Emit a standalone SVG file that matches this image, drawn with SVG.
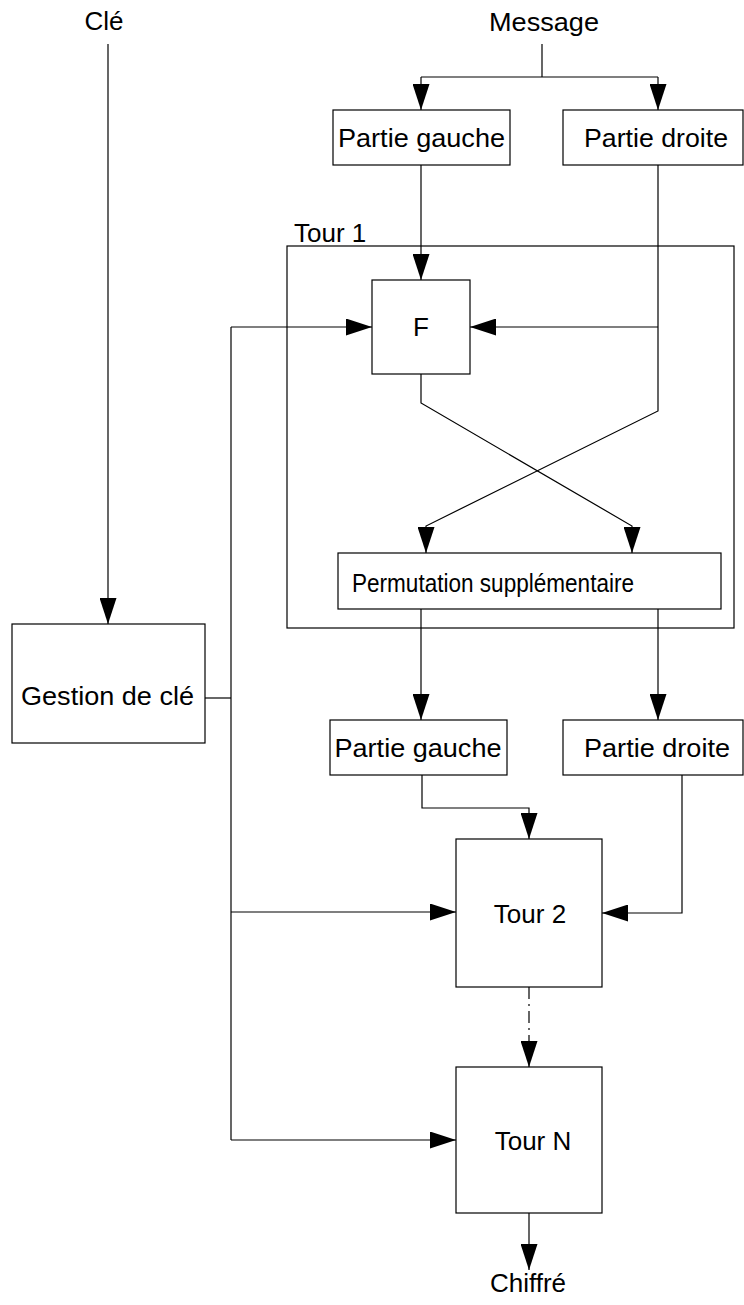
<svg xmlns="http://www.w3.org/2000/svg" width="744" height="1305" viewBox="0 0 744 1305">
  <style>
    .box { fill: #fff; stroke: #000; stroke-width: 1.2; }
    .frame { fill: none; stroke: #000; stroke-width: 1.2; }
    .wire { fill: none; stroke: #000; stroke-width: 1.2; }
    .arrow { marker-end: url(#head); }
    .dashdot { stroke-dasharray: 12 5 2 5; }
    text { font-family: "Liberation Sans", Arial, sans-serif; font-size: 26px; fill: #000; text-anchor: middle; }
    .left { text-anchor: start; }
  </style>
  <defs>
    <marker id="head" markerUnits="userSpaceOnUse" markerWidth="26" markerHeight="17" refX="26" refY="8.5" orient="auto">
      <path d="M0,0 L26,8.5 L0,17 Z" fill="#000"/>
    </marker>
  </defs>

  <!-- connectors -->
  <g id="connectors">
    <!-- message split -->
    <path class="wire" d="M542,44 V77"/>
    <path class="wire" d="M421,77 H658"/>
    <path class="wire arrow" d="M421,77 V110"/>
    <path class="wire arrow" d="M658,77 V110"/>
    <!-- key input -->
    <path class="wire arrow" d="M108,44 V624"/>
    <!-- round 1 -->
    <path class="wire arrow" d="M421,165 V280"/>
    <path class="wire arrow" d="M658,165 V411 L426,526 V553"/>
    <path class="wire arrow" d="M658,327 H470"/>
    <path class="wire arrow" d="M421,374 V403 L632,526 V553"/>
    <!-- subkey distribution -->
    <path class="wire" d="M205,698 H231"/>
    <path class="wire" d="M231,327 V1140"/>
    <path class="wire arrow" d="M231,327 H372"/>
    <path class="wire arrow" d="M231,912 H456"/>
    <path class="wire arrow" d="M231,1140 H456"/>
    <!-- halves after permutation -->
    <path class="wire arrow" d="M421,609 V720"/>
    <path class="wire arrow" d="M658,609 V720"/>
    <!-- round 2 inputs -->
    <path class="wire arrow" d="M422,775 V808 H529 V839"/>
    <path class="wire arrow" d="M682,775 V913 H602"/>
    <!-- later rounds -->
    <path class="wire arrow dashdot" d="M529,987 V1067"/>
    <path class="wire arrow" d="M529,1213 V1270"/>
  </g>

  <g id="label-cle"><text x="104" y="30">Clé</text></g>
  <g id="label-message"><text x="544" y="31" textLength="110" lengthAdjust="spacingAndGlyphs">Message</text></g>

  <g id="partie-gauche-1">
    <rect class="box" x="333" y="110" width="177" height="55"/>
    <text x="421.5" y="147" textLength="167" lengthAdjust="spacingAndGlyphs">Partie gauche</text>
  </g>
  <g id="partie-droite-1">
    <rect class="box" x="563" y="110" width="180" height="55"/>
    <text x="656" y="147" textLength="144" lengthAdjust="spacingAndGlyphs">Partie droite</text>
  </g>

  <g id="tour-1">
    <rect class="frame" x="287" y="246" width="447" height="382"/>
    <text class="left" x="294" y="242">Tour 1</text>
  </g>

  <g id="fonction-f">
    <rect class="box" x="372" y="280" width="98" height="94"/>
    <text x="421" y="336">F</text>
  </g>

  <g id="permutation">
    <rect class="box" x="338" y="553" width="383" height="56"/>
    <text x="493" y="592" textLength="282" lengthAdjust="spacingAndGlyphs">Permutation supplémentaire</text>
  </g>

  <g id="gestion-cle">
    <rect class="box" x="12" y="624" width="193" height="119"/>
    <text x="107.5" y="705" textLength="173" lengthAdjust="spacingAndGlyphs">Gestion de clé</text>
  </g>

  <g id="partie-gauche-2">
    <rect class="box" x="330" y="720" width="177" height="55"/>
    <text x="418" y="757" textLength="167" lengthAdjust="spacingAndGlyphs">Partie gauche</text>
  </g>
  <g id="partie-droite-2">
    <rect class="box" x="563" y="720" width="180" height="55"/>
    <text x="657" y="757" textLength="146" lengthAdjust="spacingAndGlyphs">Partie droite</text>
  </g>

  <g id="tour-2">
    <rect class="box" x="456" y="839" width="146" height="148"/>
    <text x="530" y="923">Tour 2</text>
  </g>

  <g id="tour-n">
    <rect class="box" x="456" y="1067" width="146" height="146"/>
    <text x="533" y="1150">Tour N</text>
  </g>

  <g id="label-chiffre"><text x="528" y="1292">Chiffré</text></g>
</svg>
